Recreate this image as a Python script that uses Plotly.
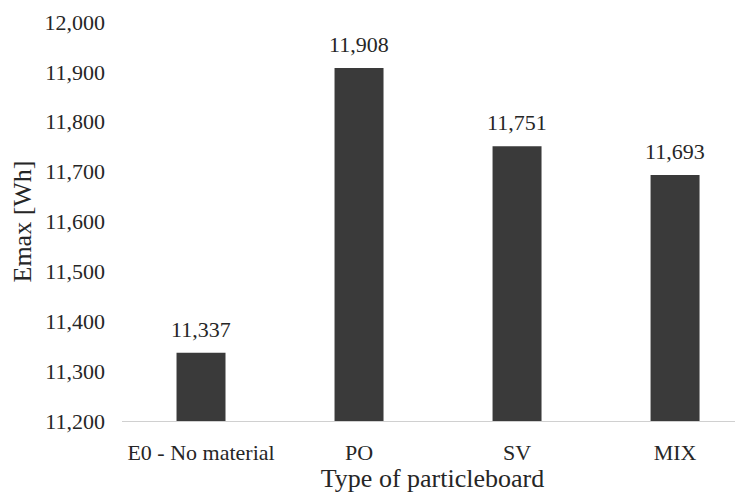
import plotly.graph_objects as go

categories = ["E0 - No material", "PO", "SV", "MIX"]
emax_wh = [11337, 11908, 11751, 11693]
y_ticks = [11200, 11300, 11400, 11500, 11600, 11700, 11800, 11900, 12000]

font_family = "Liberation Serif, Times New Roman, serif"
text_color = "#262626"

fig = go.Figure(go.Bar(
    x=categories,
    y=emax_wh,
    marker=dict(color="#3a3a3a", line=dict(width=0)),
    width=0.31,
    hoverinfo="x+y",
))

# value labels above the bars, a bit higher than plotly's "outside" text
for cat, val in zip(categories, emax_wh):
    fig.add_annotation(x=cat, y=val, text=f"{val:,}", showarrow=False,
                       yanchor="bottom", yshift=9,
                       font=dict(family=font_family, size=22, color=text_color))

# page body adds an 8px offset, so the figure is drawn 8px smaller
fig.update_layout(
    width=735, height=485,
    margin=dict(l=114, r=0, t=14, b=72),
    plot_bgcolor="white", paper_bgcolor="white",
    font=dict(family=font_family, size=22, color=text_color),
    showlegend=False,
    xaxis=dict(
        title=dict(text="Type of particleboard", font=dict(size=26), standoff=3),
        range=[-0.5, 3.43],
        showline=True, linecolor="#d0d0d0", linewidth=1,
        showgrid=False, ticks="", ticklabelstandoff=12,
    ),
    yaxis=dict(
        title=dict(text="Emax [Wh]", font=dict(size=26), standoff=8),
        range=[11200, 12000],
        tickvals=y_ticks,
        tickformat=",",
        showgrid=False, zeroline=False, showline=False,
        ticks="", ticklabelstandoff=16,
    ),
)

fig.write_html("out.html")
